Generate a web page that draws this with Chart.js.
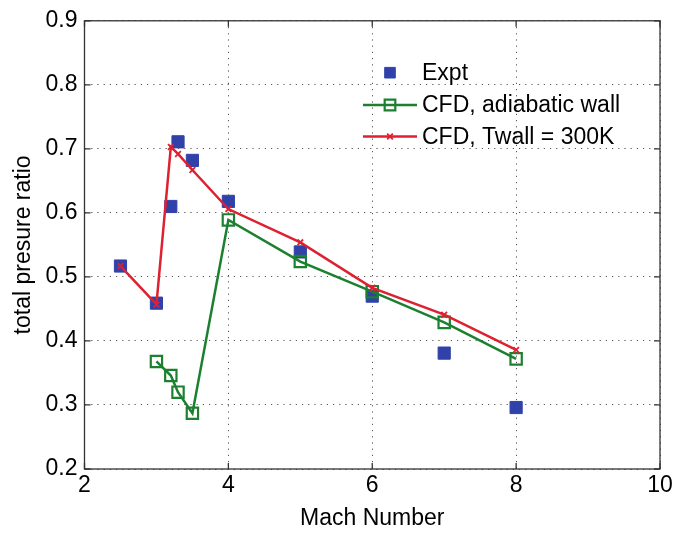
<!DOCTYPE html>
<html>
<head>
<meta charset="utf-8">
<script src="https://cdn.jsdelivr.net/npm/chart.js@4.4.1/dist/chart.umd.min.js"></script>
<style>
  html, body { margin: 0; padding: 0; background: #fff; }
  #wrap { width: 689px; height: 533px; }
</style>
</head>
<body>
<div id="wrap"><canvas id="machChart" width="689" height="533"></canvas></div>
<script>
try {

  // data
  const exptMach = [2.5, 3, 3.2, 3.3, 3.5, 4, 5, 6, 7, 8];
  const exptRatio = [0.517, 0.459, 0.610, 0.711, 0.682, 0.618, 0.539, 0.470, 0.381, 0.296];

  const adiabaticMach = [3, 3.2, 3.3, 3.5, 4, 5, 6, 7, 8];
  const adiabaticRatio = [0.368, 0.346, 0.320, 0.287, 0.589, 0.524, 0.477, 0.429, 0.372];

  const twallMach = [2.5, 3, 3.2, 3.3, 3.5, 4, 5, 6, 7, 8];
  const twallRatio = [0.517, 0.457, 0.703, 0.692, 0.667, 0.606, 0.554, 0.483, 0.441, 0.386];

  const xTicks = [2, 4, 6, 8, 10];
  const yTicks = [0.2, 0.3, 0.4, 0.5, 0.6, 0.7, 0.8, 0.9];

  const FONT = '"Liberation Sans", Arial, sans-serif';
  const BLUE = 'rgb(48, 66, 170)';
  const GREEN = 'rgb(28, 128, 48)';
  const RED = 'rgb(222, 32, 48)';

  function toPoints(xs, ys) {
    return xs.map((x, i) => ({ x: x, y: ys[i] }));
  }

  // box round the axes with inward ticks, matlab style
  const axesBox = {
    id: 'axesBox',
    afterDatasetsDraw(chart) {
      const { ctx, chartArea: a, scales } = chart;
      ctx.save();
      ctx.strokeStyle = '#333';
      ctx.lineWidth = 1.3;
      ctx.strokeRect(a.left, a.top, a.right - a.left, a.bottom - a.top);
      ctx.beginPath();
      xTicks.forEach(v => {
        const px = scales.x.getPixelForValue(v);
        ctx.moveTo(px, a.bottom); ctx.lineTo(px, a.bottom - 6);
        ctx.moveTo(px, a.top); ctx.lineTo(px, a.top + 6);
      });
      yTicks.forEach(v => {
        const py = scales.y.getPixelForValue(v);
        ctx.moveTo(a.left, py); ctx.lineTo(a.left + 6, py);
        ctx.moveTo(a.right, py); ctx.lineTo(a.right - 6, py);
      });
      ctx.stroke();
      ctx.restore();
    }
  };

  // legend inside the plot, no frame
  const insideLegend = {
    id: 'insideLegend',
    afterDraw(chart) {
      const ctx = chart.ctx;
      const rows = [72.7, 105, 136.5];
      const x0 = 363, x1 = 417, xm = 390, xt = 422;
      ctx.save();
      chart.data.datasets.forEach((ds, i) => {
        const y = rows[i];
        if (ds.showLine !== false) {
          ctx.strokeStyle = ds.borderColor;
          ctx.lineWidth = ds.borderWidth;
          ctx.beginPath();
          ctx.moveTo(x0, y); ctx.lineTo(x1, y);
          ctx.stroke();
        }
        ctx.fillStyle = ds.pointBackgroundColor;
        ctx.strokeStyle = ds.pointBorderColor;
        ctx.lineWidth = ds.pointBorderWidth;
        Chart.helpers.drawPoint(ctx, {
          pointStyle: ds.pointStyle,
          radius: ds.legendRadius,
          borderWidth: ds.pointBorderWidth,
          rotation: 0
        }, xm, y);
        ctx.fillStyle = '#000';
        ctx.font = '23px ' + FONT;
        ctx.textBaseline = 'middle';
        ctx.textAlign = 'left';
        ctx.fillText(ds.label, xt, y + 1);
      });
      ctx.restore();
    }
  };

  const ctx = document.getElementById('machChart').getContext('2d');
  new Chart(ctx, {
    type: 'scatter',
    data: {
      datasets: [{
        label: 'Expt',
        data: toPoints(exptMach, exptRatio),
        showLine: false,
        pointStyle: 'rect',
        pointRadius: 8.6,
        legendRadius: 7.5,
        pointBackgroundColor: BLUE,
        pointBorderColor: BLUE,
        pointBorderWidth: 1,
        borderColor: BLUE,
        borderWidth: 0,
        order: 3
      }, {
        label: 'CFD, adiabatic wall',
        data: toPoints(adiabaticMach, adiabaticRatio),
        showLine: true,
        pointStyle: 'rect',
        pointRadius: 8,
        legendRadius: 7.5,
        pointBackgroundColor: 'rgba(255,255,255,0)',
        pointBorderColor: GREEN,
        pointBorderWidth: 2.2,
        borderColor: GREEN,
        borderWidth: 2.5,
        order: 2
      }, {
        label: 'CFD, Twall = 300K',
        data: toPoints(twallMach, twallRatio),
        showLine: true,
        pointStyle: 'crossRot',
        pointRadius: 4,
        legendRadius: 4,
        pointBackgroundColor: RED,
        pointBorderColor: RED,
        pointBorderWidth: 1.8,
        borderColor: RED,
        borderWidth: 2.5,
        order: 1
      }]
    },
    options: {
      responsive: false,
      animation: false,
      devicePixelRatio: 1,
      layout: { padding: { top: 17, right: 29, left: 0, bottom: 0 } },
      plugins: {
        legend: { display: false },
        tooltip: { enabled: false }
      },
      scales: {
        x: {
          type: 'linear',
          min: 2,
          max: 10,
          afterBuildTicks: s => { s.ticks = xTicks.map(v => ({ value: v })); },
          afterFit: s => { s.height = 64; },
          grid: { color: '#555', lineWidth: 1, drawTicks: false },
          border: { display: false, dash: [1.2, 5] },
          ticks: {
            color: '#000',
            font: { family: FONT, size: 23 },
            padding: 3,
            maxRotation: 0,
            callback: v => String(v)
          },
          title: {
            display: true,
            text: 'Mach Number',
            color: '#000',
            font: { family: FONT, size: 23 },
            padding: { top: 0, bottom: 1 }
          }
        },
        y: {
          type: 'linear',
          min: 0.2,
          max: 0.9,
          afterBuildTicks: s => { s.ticks = yTicks.map(v => ({ value: v })); },
          afterFit: s => { s.width = 84.5; },
          grid: { color: '#555', lineWidth: 1, drawTicks: false },
          border: { display: false, dash: [1.2, 5] },
          ticks: {
            color: '#000',
            font: { family: FONT, size: 23 },
            padding: 7,
            callback: v => Number(v).toFixed(1)
          },
          title: {
            display: true,
            text: 'total presure ratio',
            color: '#000',
            font: { family: FONT, size: 23 },
            padding: { top: 10, bottom: 0 }
          }
        }
      }
    },
    plugins: [axesBox, insideLegend]
  });

} catch (e) {
  console.log(e);
}
</script>
</body>
</html>
